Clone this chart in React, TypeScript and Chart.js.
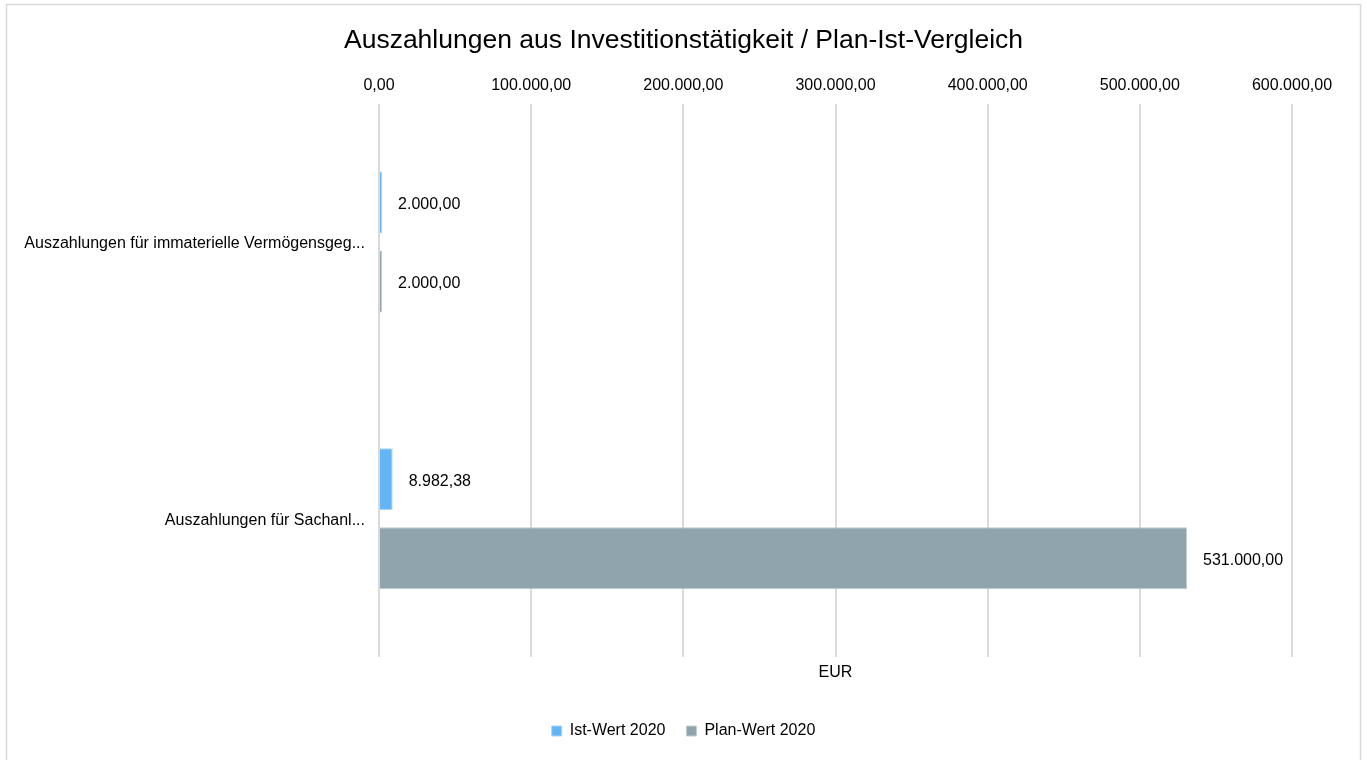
import React, { useEffect, useRef } from "react";
import { Chart, registerables } from "chart.js";

Chart.register(...registerables);

const categories = [
  "Auszahlungen für immaterielle Vermögensgeg...",
  "Auszahlungen für Sachanl...",
];
const istWerte = [2000, 8982.38];
const planWerte = [2000, 531000];
const seriesNames = ["Ist-Wert 2020", "Plan-Wert 2020"];
const titleText = "Auszahlungen aus Investitionstätigkeit / Plan-Ist-Vergleich";
const axisTitle = "EUR";
const xMin = 0;
const xMax = 600000;
const xStep = 100000;

const FONT = "'Liberation Sans', Arial, sans-serif";

function fmtDE(v: number): string {
  const neg = v < 0;
  const fixed = Math.abs(v).toFixed(2);
  const [intPart, dec] = fixed.split(".");
  const withDots = intPart.replace(/\B(?=(\d{3})+(?!\d))/g, ".");
  return (neg ? "-" : "") + withDots + "," + dec;
}

const borderPlugin = {
  id: "outerBorder",
  beforeDraw(chart: any) {
    const ctx = chart.ctx;
    ctx.save();
    ctx.strokeStyle = "#d9d9d9";
    ctx.lineWidth = 1.5;
    ctx.strokeRect(6.5, 4.5, chart.width - 13, chart.height + 50);
    ctx.restore();
  },
};

const valueLabelPlugin = {
  id: "valueLabels",
  afterDatasetsDraw(chart: any) {
    const ctx = chart.ctx;
    ctx.save();
    ctx.font = `16px ${FONT}`;
    ctx.fillStyle = "#000";
    ctx.textAlign = "left";
    ctx.textBaseline = "middle";
    chart.data.datasets.forEach((ds: any, di: number) => {
      const meta = chart.getDatasetMeta(di);
      meta.data.forEach((bar: any, i: number) => {
        const v = ds.data[i];
        ctx.fillText(fmtDE(v), bar.x + 16, bar.y + 2);
      });
    });
    ctx.restore();
  },
};

export default function App() {
  const ref = useRef<HTMLCanvasElement | null>(null);
  useEffect(() => {
    if (!ref.current) return;
    const chart = new Chart(ref.current, {
      type: "bar",
      data: {
        labels: categories,
        datasets: [
          {
            label: seriesNames[0],
            data: istWerte,
            backgroundColor: "#64b5f6",
            borderColor: "#a9d4f8",
            borderWidth: 1,
            categoryPercentage: 0.571,
            barPercentage: 0.785,
          },
          {
            label: seriesNames[1],
            data: planWerte,
            backgroundColor: "#90a4ae",
            borderColor: "#c2cdd2",
            borderWidth: 1,
            categoryPercentage: 0.571,
            barPercentage: 0.785,
          },
        ],
      },
      options: {
        indexAxis: "y",
        responsive: false,
        animation: false,
        layout: { padding: { left: 0, right: 0, top: 0, bottom: 11 } },
        scales: {
          x: {
            position: "top",
            min: xMin,
            max: xMax,
            ticks: {
              stepSize: xStep,
              padding: 8.4,
              color: "#000",
              font: { family: FONT, size: 16 },
              callback: (v: any) => fmtDE(Number(v)),
            },
            grid: { color: "#d9d9d9", lineWidth: 2, drawTicks: false },
            border: { display: false },
            afterFit: (s: any) => {
              s.height = 46.8;
            },
          },
          x2: {
            type: "linear",
            position: "bottom",
            display: true,
            ticks: { display: false },
            grid: { display: false, drawTicks: false },
            border: { display: false },
            title: {
              display: true,
              text: axisTitle,
              color: "#000",
              font: { family: FONT, size: 16 },
              padding: { top: 0, bottom: 19.4 },
            },
            afterFit: (s: any) => {
              s.height = 45;
            },
          },
          y: {
            ticks: {
              padding: 14,
              labelOffset: 2,
              color: "#000",
              font: { family: FONT, size: 16 },
            },
            grid: { display: false, drawTicks: false },
            border: { display: false },
            afterFit: (s: any) => {
              s.width = 379;
            },
          },
          y2: {
            type: "linear",
            position: "right",
            display: true,
            ticks: { display: false },
            grid: { display: false, drawTicks: false },
            border: { display: false },
            afterFit: (s: any) => {
              s.width = 75;
            },
          },
        },
        plugins: {
          title: {
            display: true,
            text: titleText,
            color: "#000",
            font: { family: FONT, size: 26.5, weight: "normal" },
            padding: { top: 25, bottom: 0 },
          },
          legend: {
            position: "bottom",
            labels: {
              boxWidth: 10,
              boxHeight: 10,
              padding: 21,
              color: "#000",
              font: { family: FONT, size: 16 },
            },
          },
          tooltip: { enabled: false },
        },
      },
      plugins: [borderPlugin, valueLabelPlugin],
    } as any);
    return () => chart.destroy();
  }, []);
  return (
    <div style={{ position: "absolute", left: 0, top: 0, width: 1367, height: 760 }}>
      <canvas ref={ref} width={1367} height={760} style={{ display: "block" }} />
    </div>
  );
}
